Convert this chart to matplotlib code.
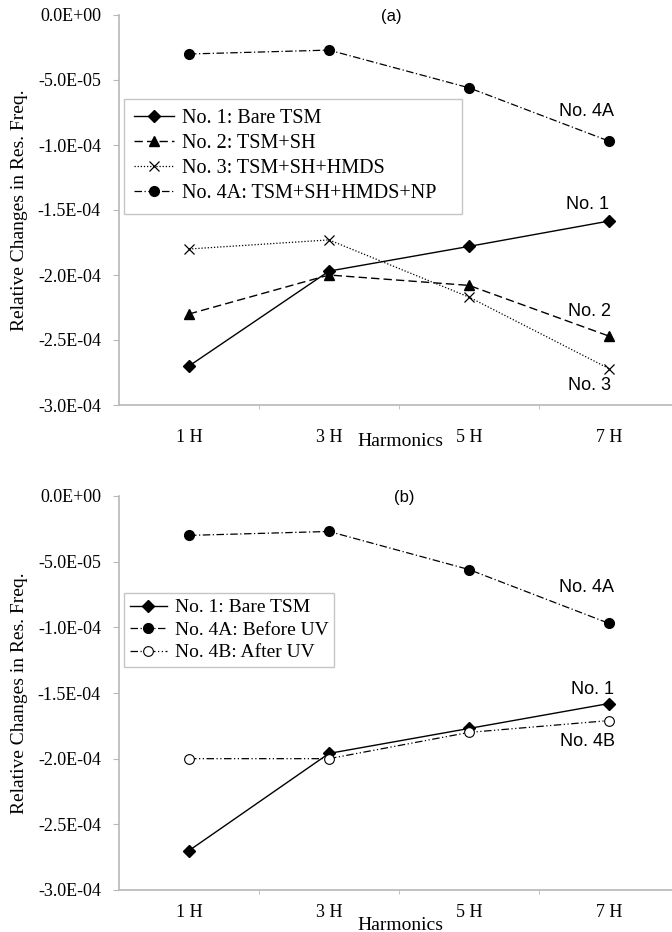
import matplotlib
matplotlib.use("Agg")
import matplotlib.pyplot as plt

harmonics = ['1 H', '3 H', '5 H', '7 H']
yticks = [0, -5e-5, -1e-4, -1.5e-4, -2e-4, -2.5e-4, -3e-4]
ytick_labels = ['0.0E+00', '-5.0E-05', '-1.0E-04', '-1.5E-04', '-2.0E-04', '-2.5E-04', '-3.0E-04']

# panel (a)
no1_a = [-2.70e-4, -1.97e-4, -1.78e-4, -1.585e-4]
no2_a = [-2.30e-4, -2.00e-4, -2.08e-4, -2.47e-4]
no3_a = [-1.80e-4, -1.73e-4, -2.17e-4, -2.72e-4]
no4a_a = [-3.0e-5, -2.7e-5, -5.6e-5, -9.7e-5]

# panel (b)
no1_b = [-2.70e-4, -1.96e-4, -1.77e-4, -1.58e-4]
no4a_b = [-3.0e-5, -2.7e-5, -5.6e-5, -9.7e-5]
no4b_b = [-2.00e-4, -2.00e-4, -1.80e-4, -1.71e-4]

serif = 'Liberation Serif'
sans = 'Liberation Sans'
gray = '#b8b8b8'

fig = plt.figure(figsize=(6.72, 9.32), dpi=100)
ax_a = fig.add_axes([119/672, 1 - 405/932, 560/672, 390/932])
ax_b = fig.add_axes([119/672, 1 - 890/932, 560/672, 394/932])


def setup(ax, tickpad):
    x = range(len(harmonics))
    ax.set_xlim(-0.5, 3.5)
    ax.set_ylim(-3e-4, 0)
    ax.set_xticks(list(x))
    ax.set_xticklabels(harmonics, fontfamily=serif, fontsize=13)
    ax.set_xticks([0.5, 1.5, 2.5], minor=True)
    ax.tick_params(axis='x', which='major', length=0, pad=tickpad)
    ax.tick_params(axis='x', which='minor', length=3, color=gray, direction='out')
    ax.set_yticks(yticks)
    ax.set_yticklabels(ytick_labels, fontfamily=serif, fontsize=13)
    ax.tick_params(axis='y', length=4, color=gray, pad=9)
    for s in ['top', 'right']:
        ax.spines[s].set_visible(False)
    for s in ['left', 'bottom']:
        ax.spines[s].set_color(gray)
        ax.spines[s].set_linewidth(1.2)
    ax.set_ylabel('Relative Changes in Res. Freq.', fontfamily=serif, fontsize=14, labelpad=2)
    ax.yaxis.set_label_coords(-0.162, 0.5)


# ---- (a)
x = range(len(harmonics))
ax_a.plot(x, no1_a, 'k-', marker='D', ms=6, lw=1.0, label='No. 1: Bare TSM')
ax_a.plot(x, no2_a, 'k', ls=(0, (6, 3)), marker='^', ms=7, lw=1.0, label='No. 2: TSM+SH')
ax_a.plot(x, no3_a, 'k', ls=(0, (1, 1.5)), marker='x', ms=7, lw=0.9, mew=0.9, label='No. 3: TSM+SH+HMDS')
ax_a.plot(x, no4a_a, 'k', ls=(0, (6, 2, 1, 2)), marker='o', ms=7, lw=0.9, label='No. 4A: TSM+SH+HMDS+NP')
setup(ax_a, 17)
leg = ax_a.legend(loc='upper left', bbox_to_anchor=(0.009, 0.785, 0.604, 0), mode='expand',
                  borderaxespad=0, prop={'family': serif, 'size': 14.5}, fancybox=False,
                  handlelength=2.0, labelspacing=0.3, handletextpad=0.4, borderpad=0.5)
leg.get_frame().set_edgecolor(gray)
leg.get_frame().set_linewidth(1.0)
ax_a.text(1.443, -1.5e-6, '(a)', fontfamily=sans, fontsize=12, ha='center', va='center')
ax_a.text(2.84, -7.46e-5, 'No. 4A', fontfamily=sans, fontsize=13, ha='center', va='center')
ax_a.text(2.85, -1.46e-4, 'No. 1', fontfamily=sans, fontsize=13, ha='center', va='center')
ax_a.text(2.86, -2.28e-4, 'No. 2', fontfamily=sans, fontsize=13, ha='center', va='center')
ax_a.text(2.86, -2.85e-4, 'No. 3', fontfamily=sans, fontsize=13, ha='center', va='center')
fig.text(400/672, 1 - 441/932, 'Harmonics', fontfamily=serif, fontsize=14, ha='center', va='center')

# ---- (b)
ax_b.plot(x, no1_b, 'k-', marker='D', ms=6, lw=1.0, label='No. 1: Bare TSM')
ax_b.plot(x, no4a_b, 'k', ls=(0, (6, 2, 1, 2)), marker='o', ms=7, lw=0.9, label='No. 4A: Before UV')
ax_b.plot(x, no4b_b, 'k', ls=(0, (6, 2, 1, 2, 1, 2)), marker='o', mfc='white', ms=7, lw=0.9,
          mew=0.8, label='No. 4B: After UV')
setup(ax_b, 10)
leg = ax_b.legend(loc='upper left', bbox_to_anchor=(0.009, 0.754), borderaxespad=0,
                  prop={'family': serif, 'size': 14}, fancybox=False, handlelength=1.9,
                  labelspacing=0.25, handletextpad=0.4, borderpad=0.3)
leg.get_frame().set_edgecolor(gray)
leg.get_frame().set_linewidth(1.0)
ax_b.text(1.536, -0.8e-6, '(b)', fontfamily=sans, fontsize=12, ha='center', va='center')
ax_b.text(2.84, -6.93e-5, 'No. 4A', fontfamily=sans, fontsize=13, ha='center', va='center')
ax_b.text(2.88, -1.477e-4, 'No. 1', fontfamily=sans, fontsize=13, ha='center', va='center')
ax_b.text(2.85, -1.873e-4, 'No. 4B', fontfamily=sans, fontsize=13, ha='center', va='center')
fig.text(400/672, 1 - 925/932, 'Harmonics', fontfamily=serif, fontsize=14, ha='center', va='center')

plt.savefig('out.png', dpi=100)
